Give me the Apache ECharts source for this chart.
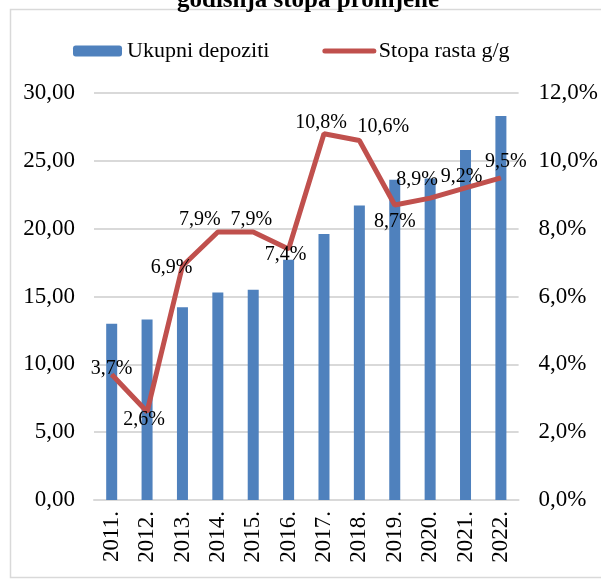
<!DOCTYPE html>
<html>
<head>
<meta charset="utf-8">
<script src="https://cdn.jsdelivr.net/npm/echarts@6/dist/echarts.min.js"></script>
<style>
  html, body { margin: 0; padding: 0; background: #fff; }
  #chart { width: 601px; height: 580px; }
</style>
</head>
<body>
<div id="chart"></div>
<script>
// podaci
var godine = ['2011.', '2012.', '2013.', '2014.', '2015.', '2016.', '2017.', '2018.', '2019.', '2020.', '2021.', '2022.'];
var depoziti = [13.0, 13.3, 14.2, 15.3, 15.5, 17.7, 19.6, 21.7, 23.6, 23.7, 25.8, 28.3];
var stopaRasta = [3.7, 2.6, 6.9, 7.9, 7.9, 7.4, 10.8, 10.6, 8.7, 8.9, 9.2, 9.5];

// pomak oznaka na liniji (kao u Excelu)
var pomakOznaka = [[0, -6], [-3, 8], [-11, 2], [-18, -12], [-2, -12], [-3, 6],
    [-3, -11], [24, -14], [0, 17], [-13, -18], [-4, -11], [5, -16]];

var font = 'Liberation Serif';
var myChart = echarts.init(document.getElementById('chart'));

var option = {
    animation: false,
    title: {
        text: 'godišnja stopa promjene',
        left: 172,
        top: -17,
        textStyle: { fontFamily: font, fontSize: 25, fontWeight: 'bold', color: '#000' }
    },
    graphic: [{
        type: 'rect',
        shape: { x: 10.5, y: 9.5, width: 600, height: 568 },
        style: { fill: 'none', stroke: '#d9d9d9', lineWidth: 1.5 },
        z: -1
    }],
    legend: {
        left: 68,
        top: 35,
        itemWidth: 49,
        itemHeight: 11,
        itemGap: 53,
        textStyle: { fontFamily: font, fontSize: 22, color: '#000' },
        data: ['Ukupni depoziti', {
            name: 'Stopa rasta g/g',
            itemStyle: { opacity: 0 },
            lineStyle: { width: 5, cap: 'round' }
        }]
    },
    grid: { left: 94, right: 79, top: 93, bottom: 80 },
    xAxis: {
        type: 'category',
        data: godine,
        axisTick: { show: false },
        axisLine: { lineStyle: { color: '#d9d9d9', width: 2 } },
        axisLabel: { rotate: 90, fontFamily: font, fontSize: 23, color: '#000', margin: 11 }
    },
    yAxis: [{
        type: 'value',
        min: 0, max: 30, interval: 5,
        axisLabel: {
            fontFamily: font, fontSize: 23, color: '#000', margin: 19,
            formatter: function (v) { return v.toFixed(2).replace('.', ','); }
        },
        splitLine: { lineStyle: { color: '#d9d9d9', width: 2 } }
    }, {
        type: 'value',
        min: 0, max: 12, interval: 2,
        axisLabel: {
            fontFamily: font, fontSize: 23, color: '#000', margin: 20,
            formatter: function (v) { return v.toFixed(1).replace('.', ',') + '%'; }
        },
        splitLine: { show: false }
    }],
    series: [{
        name: 'Ukupni depoziti',
        type: 'bar',
        data: depoziti,
        barWidth: 11,
        itemStyle: { color: '#4f81bd' }
    }, {
        name: 'Stopa rasta g/g',
        type: 'line',
        yAxisIndex: 1,
        symbol: 'circle',
        symbolSize: 1,
        showSymbol: true,
        lineStyle: { color: '#c0504d', width: 5 },
        itemStyle: { color: '#c0504d' },
        data: stopaRasta.map(function (v, i) {
            return {
                value: v,
                label: {
                    show: true,
                    position: 'inside',
                    offset: pomakOznaka[i],
                    fontFamily: font, fontSize: 20, color: '#000',
                    formatter: function (p) { return p.value.toFixed(1).replace('.', ',') + '%'; }
                }
            };
        })
    }]
};

myChart.setOption(option);
</script>
</body>
</html>
